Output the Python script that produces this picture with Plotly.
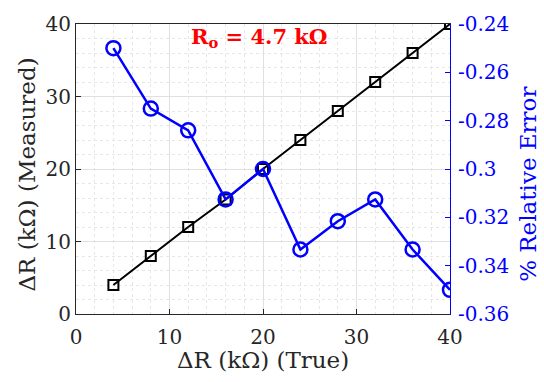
import plotly.graph_objects as go

true_kohm = [4, 8, 12, 16, 20, 24, 28, 32, 36, 40]
measured_kohm = [4, 8, 12, 15.8, 20, 24, 28, 32, 36, 40]
rel_error_pct = [-0.250, -0.275, -0.284, -0.3126, -0.300, -0.3333, -0.3216, -0.3126, -0.3333, -0.350]

x_ticks = [0, 10, 20, 30, 40]
y_ticks = [0, 10, 20, 30, 40]
y2_ticks = [-0.36, -0.34, -0.32, -0.30, -0.28, -0.26, -0.24]
y2_ticktext = ["-0.36", "-0.34", "-0.32", "-0.3", "-0.28", "-0.26", "-0.24"]

FONT = "DejaVu Serif"
DARK = "#262626"
BLUE = "#0000ff"
TICK = 20
LABEL = 23

fig = go.Figure()
fig.add_trace(go.Scatter(
    x=true_kohm, y=measured_kohm, mode="lines+markers",
    line=dict(color="black", width=2),
    marker=dict(symbol="square-open", size=10, color="black", line=dict(width=2)),
    showlegend=False,
))
fig.add_trace(go.Scatter(
    x=true_kohm, y=rel_error_pct, mode="lines+markers", yaxis="y2",
    line=dict(color=BLUE, width=2.5),
    marker=dict(symbol="circle-open", size=14, color=BLUE, line=dict(width=2.5)),
    showlegend=False,
))

fig.update_layout(
    width=544, height=382,
    margin=dict(l=76, r=94, t=15, b=68),
    paper_bgcolor="white", plot_bgcolor="white",
    font=dict(family=FONT, size=TICK, color=DARK),
    xaxis=dict(
        range=[0, 40], tickvals=x_ticks, ticks="inside", ticklen=5, tickcolor=DARK,
        showline=True, linecolor=DARK, linewidth=1, mirror=True,
        showgrid=True, gridcolor="#e0e0e0", gridwidth=1,
        minor=dict(dtick=2, showgrid=True, gridcolor="#e6e6e6", griddash="dot", ticks=""),
        zeroline=False, ticklabelstandoff=5,
        tickfont=dict(family=FONT, size=TICK, color=DARK),
    ),
    yaxis=dict(
        range=[0, 40], tickvals=y_ticks, ticks="inside", ticklen=5, tickcolor=DARK,
        showline=True, linecolor=DARK, linewidth=1,
        showgrid=True, gridcolor="#e0e0e0", gridwidth=1,
        minor=dict(dtick=2, showgrid=True, gridcolor="#e6e6e6", griddash="dot", ticks=""),
        zeroline=False,
        tickfont=dict(family=FONT, size=TICK, color=DARK),
    ),
    yaxis2=dict(
        overlaying="y", side="right", range=[-0.36, -0.24],
        tickvals=y2_ticks, ticktext=y2_ticktext, ticks="inside", ticklen=5, tickcolor=BLUE,
        showline=True, linecolor=BLUE, linewidth=1,
        showgrid=False, zeroline=False, ticklabelstandoff=3,
        tickfont=dict(family=FONT, size=TICK, color=BLUE),
    ),
    annotations=[
        dict(x=0.5, y=-0.16, xref="paper", yref="paper", xanchor="center", yanchor="middle",
             text="ΔR (kΩ) (True)", showarrow=False,
             font=dict(family=FONT, size=LABEL, color=DARK)),
        dict(x=-0.13, y=0.482, xref="paper", yref="paper", xanchor="center", yanchor="middle",
             text="ΔR (kΩ) (Measured)", showarrow=False, textangle=-90,
             font=dict(family=FONT, size=LABEL, color=DARK)),
        dict(x=1.208, y=0.448, xref="paper", yref="paper", xanchor="center", yanchor="middle",
             text="% Relative Error", showarrow=False, textangle=-90,
             font=dict(family=FONT, size=LABEL, color=BLUE)),
        dict(x=0.49, y=0.955, xref="paper", yref="paper", xanchor="center", yanchor="middle",
             text="<b>R<sub>o</sub> = 4.7 kΩ</b>", showarrow=False,
             font=dict(family=FONT, size=21, color="#ff0000")),
    ],
)

fig.write_html("out.html")
